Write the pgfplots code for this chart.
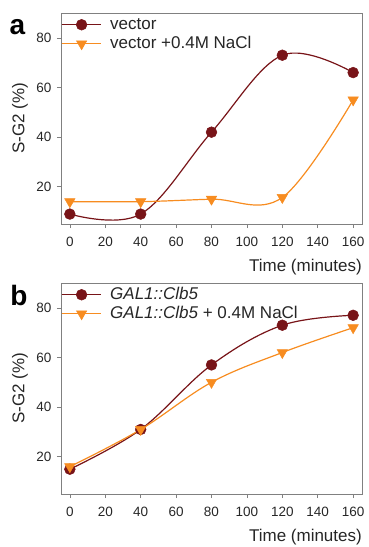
\documentclass[border=0pt]{standalone}
\usepackage{fontspec}
\setmainfont{Liberation Sans}
\usepackage{pgfplots}
\pgfplotsset{compat=1.18}
\definecolor{dred}{RGB}{120,20,24}
\definecolor{orng}{RGB}{247,140,32}
\definecolor{framec}{RGB}{128,128,128}
\pgfplotsset{
 panel/.style={
  scale only axis, width=301pt, height=211pt,
  xmin=-5, xmax=165, ymin=5, ymax=90,
  xtick={0,20,...,160}, ytick={20,40,60,80},
  xtick pos=bottom, ytick pos=left,
  tick align=outside, major tick length=4pt,
  tick style={framec, line width=0.6pt},
  axis line style={framec, line width=0.6pt},
  /pgf/number format/assume math mode=true,
  tick label style={font=\fontsize{13.5}{14}\selectfont, text=black!85},
  xticklabel style={yshift=-6pt},
  yticklabel style={xshift=-2pt},
  xlabel={Time (minutes)},
  ylabel={S-G2 (\%)},
  label style={font=\fontsize{17}{18}\selectfont, text=black!85},
  xlabel style={at={(axis description cs:1,-0.2038)}, anchor=east, inner sep=0pt},
  ylabel style={at={(axis description cs:-0.1362,0.5)}, anchor=center, inner sep=0pt},
  legend style={at={(axis description cs:0,1)}, anchor=north west, draw=none, fill=none,
    inner sep=0pt, outer sep=0pt, row sep=1.5pt, column sep=0pt,
    font=\fontsize{17}{18}\selectfont, text=black!85,
    nodes={inner sep=1pt, text height=12pt, text depth=3.5pt},
    yshift=-3pt},
  legend cell align=left,
  legend image code/.code={\draw[mark repeat=2,mark phase=2] plot coordinates {(0pt,0pt)(20pt,0pt)(39pt,0pt)};},
 },
 s1/.style={color=dred, line width=1.2pt, smooth, tension=0.6, mark=*, mark size=5.4pt, mark options={fill=dred, draw=dred, line width=0.5pt}},
 s2/.style={color=orng, line width=1.2pt, smooth, tension=0.6, mark=triangle*, mark size=6pt, mark options={fill=orng, draw=orng, rotate=180, line width=0.5pt}},
}
\begin{document}
\begin{tikzpicture}
\begin{axis}[panel, at={(61pt,-224pt)}, anchor=south west]
\addplot[s1] coordinates {(0,9)(40,9)(80,42)(120,73)(160,66)};
\addlegendentry{\hspace{8pt}vector}
\addplot[s2] coordinates {(0,14)(40,14)(80,15)(120,15.7)(160,55)};
\addlegendentry{\hspace{8pt}vector +0.4M NaCl}
\end{axis}
\begin{axis}[panel, at={(61pt,-494pt)}, anchor=south west]
\addplot[s1] coordinates {(0,15)(40,31)(80,57)(120,73)(160,77)};
\addlegendentry{\hspace{8pt}\textit{GAL1::Clb5}}
\addplot[s2] coordinates {(0,16)(40,31)(80,50)(120,62)(160,72)};
\addlegendentry{\hspace{8pt}\textit{GAL1::Clb5} + 0.4M NaCl}
\end{axis}
\node[font=\bfseries\fontsize{28}{30}\selectfont, inner sep=0pt] at (17.5pt,-27pt) {a};
\node[font=\bfseries\fontsize{28}{30}\selectfont, inner sep=0pt] at (19pt,-295pt) {b};
\pgfresetboundingbox
\path (0,0) rectangle (369pt,-547pt);
\end{tikzpicture}
\end{document}
